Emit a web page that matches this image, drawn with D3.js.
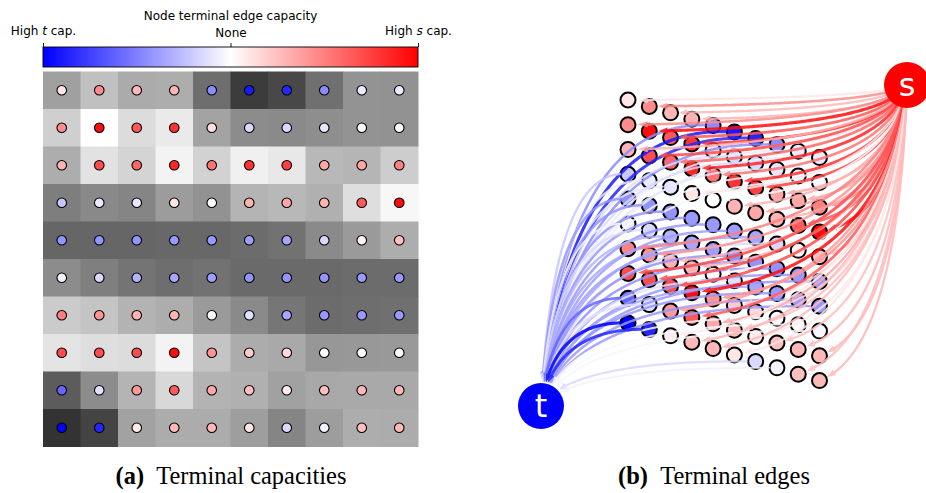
<!DOCTYPE html>
<html>
<head>
<meta charset="utf-8">
<script src="https://cdn.jsdelivr.net/npm/d3@7"></script>
<style>
  body { margin: 0; background: #fff; }
  svg { display: block; }
</style>
</head>
<body>
<svg id="chart" width="926" height="493"></svg>
<script>
// grey level of each image cell (0-255)
const pixel = [
  [160, 192, 171, 173, 110,  60,  72, 112, 147, 146],
  [207, 255, 220, 234, 163, 140, 138, 142, 147, 146],
  [173, 226, 212, 243, 210, 240, 232, 184, 181, 205],
  [126, 137, 133, 156, 146, 180, 184, 176, 222, 247],
  [102, 102, 102, 104, 104, 108, 114, 138, 154, 173],
  [140, 127, 116, 110, 114, 106, 106, 106, 108, 108],
  [203, 196, 179, 173, 154, 138, 118, 108, 110, 112],
  [228, 222, 220, 243, 196, 172, 169, 151, 152, 153],
  [ 92, 140, 180, 216, 179, 176, 161, 168, 169, 169],
  [ 51,  68, 162, 172, 172, 158, 133, 157, 173, 172]
];

// terminal capacity per node: + towards s, - towards t
const cap = [
  [ 0.10,  0.45,  0.28,  0.30, -0.45, -0.90, -0.85, -0.45, -0.08, -0.08],
  [ 0.45,  0.95,  0.65,  0.80,  0.12, -0.15, -0.15, -0.10, -0.03, -0.03],
  [ 0.30,  0.70,  0.60,  0.85,  0.55,  0.80,  0.75,  0.35,  0.35,  0.50],
  [-0.22, -0.08, -0.10,  0.10,  0.00,  0.30,  0.35,  0.30,  0.65,  0.95],
  [-0.42, -0.42, -0.42, -0.40, -0.40, -0.38, -0.35, -0.15,  0.05,  0.25],
  [-0.05, -0.15, -0.30, -0.35, -0.38, -0.42, -0.42, -0.42, -0.40, -0.40],
  [ 0.50,  0.42,  0.30,  0.30,  0.02, -0.12, -0.35, -0.40, -0.40, -0.40],
  [ 0.70,  0.70,  0.70,  0.95,  0.42,  0.20,  0.15, -0.02, -0.02, -0.03],
  [-0.60, -0.12,  0.40,  0.65,  0.35,  0.25,  0.08,  0.25,  0.28,  0.28],
  [-1.00, -0.85,  0.08,  0.28,  0.28,  0.10, -0.15, -0.05,  0.25,  0.28]
];

const cbTicks = [-1, 0, 1];
const cbTickLabels = [["High ", "t", " cap."], ["None", "", ""], ["High ", "s", " cap."]];
const cbTitle = "Node terminal edge capacity";
const captions = [["(a)", "Terminal capacities"], ["(b)", "Terminal edges"]];

const svg = d3.select("#chart");
const n = pixel.length;
const idx = d3.range(n);
const color = d3.scaleLinear().domain([-1, 0, 1]).range(["#0000ff", "#ffffff", "#ff0000"]);
const sans = "DejaVu Sans, sans-serif";

// ---------- (a) terminal capacities ----------
const gx = d3.scaleBand().domain(idx).range([43, 418]);
const gy = d3.scaleBand().domain(idx).range([71.5, 446.5]);

const cells = [];
idx.forEach(r => idx.forEach(c => cells.push({r, c, g: pixel[r][c], v: cap[r][c]})));

svg.append("g").selectAll("rect").data(cells).join("rect")
  .attr("x", d => gx(d.c)).attr("y", d => gy(d.r))
  .attr("width", gx.bandwidth() + 0.5).attr("height", gy.bandwidth() + 0.5)
  .attr("fill", d => d3.rgb(d.g, d.g, d.g));

svg.append("g").selectAll("circle").data(cells).join("circle")
  .attr("cx", d => gx(d.c) + gx.bandwidth() / 2)
  .attr("cy", d => gy(d.r) + gy.bandwidth() / 2)
  .attr("r", 4.8)
  .attr("fill", d => color(d.v))
  .attr("stroke", "#000").attr("stroke-width", 1.1);

// colorbar
const cb = d3.scaleLinear().domain([-1, 1]).range([43, 418]);
const grad = svg.append("defs").append("linearGradient").attr("id", "bwr");
cbTicks.forEach(t => grad.append("stop")
  .attr("offset", (t + 1) / 2).attr("stop-color", color(t)));
svg.append("rect").attr("x", cb(-1)).attr("y", 47).attr("width", cb(1) - cb(-1)).attr("height", 20)
  .attr("fill", "url(#bwr)").attr("stroke", "#000").attr("stroke-width", 0.9);

const cbAxis = svg.append("g").attr("transform", "translate(0,47)")
  .call(d3.axisTop(cb).tickValues(cbTicks).tickSize(4).tickPadding(3).tickFormat(""));
cbAxis.select(".domain").remove();
cbAxis.selectAll("line").attr("stroke-width", 0.9);
cbAxis.selectAll(".tick").each(function (d, i) {
  const t = d3.select(this).append("text").attr("y", i === 1 ? -10 : -12)
    .attr("fill", "#000").attr("font-family", sans).attr("font-size", 12).attr("text-anchor", "middle");
  const parts = cbTickLabels[i];
  t.append("tspan").text(parts[0]);
  if (parts[1]) t.append("tspan").attr("font-style", "italic").text(parts[1]);
  if (parts[2]) t.append("tspan").text(parts[2]);
});
svg.append("text").attr("x", cb(0)).attr("y", 20).attr("text-anchor", "middle")
  .attr("font-family", sans).attr("font-size", 12).text(cbTitle);

// ---------- (b) terminal edges ----------
const nx = d3.scaleLinear().domain([0, 9]).range([628, 819.5]);
const rowY = d3.scaleLinear().domain([0, 9]).range([100, 323]);
const colDY = d3.scaleLinear().domain([0, 9]).range([0, 57.6]);
const S = {x: 907, y: 85, R: 23}, T = {x: 541, y: 406, R: 23};
const rNode = 7.5;

const nodes = cells.map(d => ({...d, x: nx(d.c), y: rowY(d.r) + colDY(d.c)}));

function quad(p0, c, p2, t) {
  const u = 1 - t;
  return [u * u * p0[0] + 2 * u * t * c[0] + t * t * p2[0], u * u * p0[1] + 2 * u * t * c[1] + t * t * p2[1]];
}
const dist = (p, q) => Math.hypot(p[0] - q[0], p[1] - q[1]);

function edgeGeom(p0, c, p2, clipA, rA, clipB, rB) {
  let pts = d3.range(0, 1.0001, 0.005).map(t => quad(p0, c, p2, t));
  pts = pts.filter(p => dist(p, clipA) > rA && dist(p, clipB) > rB);
  const tip = pts[pts.length - 1];
  let k = pts.length - 1;
  while (k > 0 && dist(pts[k], tip) < 8) k--;
  const base = pts[k];
  const ux = (tip[0] - base[0]) / dist(tip, base), uy = (tip[1] - base[1]) / dist(tip, base);
  const hw = 3.2;
  const head = [tip, [base[0] - uy * hw, base[1] + ux * hw], [base[0] + uy * hw, base[1] - ux * hw]];
  return {line: pts.slice(0, k + 1), head};
}

const edges = nodes.map(d => {
  const p = [d.x, d.y];
  let g;
  if (d.v >= 0) {
    const c = [S.x + 0.1 * (d.x - S.x), S.y + 0.9 * (d.y - S.y)];
    g = edgeGeom([S.x, S.y], c, p, [S.x, S.y], 0, p, rNode + 0.8);
  } else {
    const c = [T.x + 0.14 * (d.x - T.x), d.y - 0.04 * (T.y - d.y)];
    g = edgeGeom(p, c, [T.x, T.y], p, rNode, [T.x, T.y], T.R + 0.8);
  }
  return {...d, ...g};
});

svg.append("g").selectAll("circle").data(nodes).join("circle")
  .attr("cx", d => d.x).attr("cy", d => d.y).attr("r", rNode)
  .attr("fill", d => color(d.v)).attr("stroke", "#000").attr("stroke-width", 2);

const line = d3.line();
const eg = svg.append("g").selectAll("g").data(edges).join("g")
  .attr("opacity", 0.85);
eg.append("path").attr("d", d => line(d.line)).attr("fill", "none")
  .attr("stroke", d => color(d.v)).attr("stroke-width", d => 2 + 1.2 * Math.abs(d.v))
  .attr("stroke-linecap", "round");
eg.append("path").attr("d", d => line(d.head) + "Z").attr("fill", d => color(d.v));

[[S, "s", "#ff0000"], [T, "t", "#0000ff"]].forEach(([p, lab, col]) => {
  svg.append("circle").attr("cx", p.x).attr("cy", p.y).attr("r", p.R).attr("fill", col);
  svg.append("text").attr("x", p.x).attr("y", p.y + 11).attr("text-anchor", "middle")
    .attr("font-family", sans).attr("font-size", 32).attr("fill", "#fff").text(lab);
});

// captions
const capX = [231, 714], capW = [231, 192];
captions.forEach((cp, i) => {
  const t = svg.append("text").attr("x", capX[i]).attr("y", 484).attr("text-anchor", "middle")
    .attr("font-family", "Liberation Serif, serif").attr("font-size", 18);
  t.append("tspan").attr("font-weight", "bold").text(cp[0]);
  t.append("tspan").text("\u2002" + cp[1]);
  const w = t.node().getComputedTextLength();
  t.attr("font-size", 18 * capW[i] / w);
});
</script>
</body>
</html>
